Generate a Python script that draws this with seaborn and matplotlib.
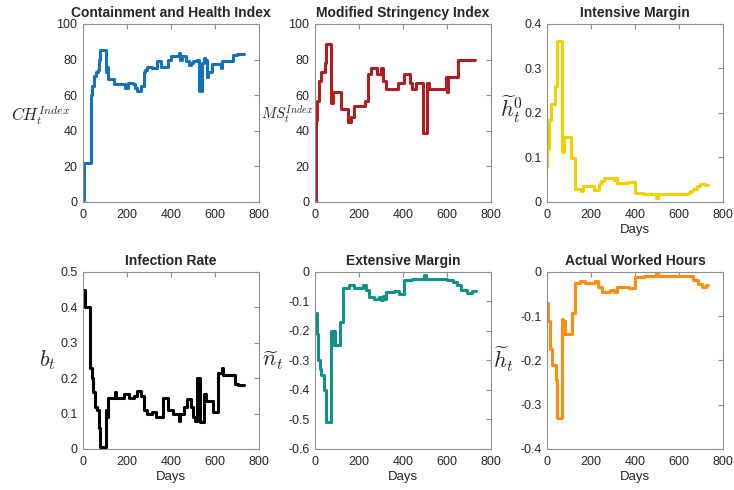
import matplotlib
matplotlib.use("Agg")
import matplotlib.pyplot as plt
from matplotlib.ticker import FixedLocator, FuncFormatter
import seaborn as sns

# Containment and Health Index (step breakpoints: day, value)
ch_days = [0, 5, 35, 38, 42, 48, 60, 68, 74, 79, 104, 109, 114, 142, 191, 206, 229, 238,
           247, 262, 275, 283, 290, 313, 336, 353, 388, 402, 436, 441, 449, 466, 480, 492,
           501, 516, 527, 543, 548, 556, 562, 568, 588, 626, 633, 682, 698, 733]
ch_vals = [1, 22, 57, 60, 65, 71, 73, 74, 80, 85.5, 73, 76, 69, 66, 64, 67, 66, 64,
           62.5, 65, 73, 74, 76, 75, 79, 76, 80, 82, 83.5, 80, 82, 79, 77, 78,
           79, 80, 62.5, 78, 81, 80, 70, 73, 77.5, 75, 79, 82.5, 83, 83]

# Modified Stringency Index
ms_days = [0, 4, 8, 17, 27, 45, 51, 71, 80, 116, 152, 162, 176, 228, 242, 256, 282, 301,
           307, 322, 377, 403, 431, 440, 457, 491, 507, 520, 597, 601, 605, 648, 727]
ms_vals = [0, 46, 57, 68, 73, 78, 88.5, 55.5, 62, 52, 45, 48, 54, 57, 72, 75, 72, 75,
           68, 63.5, 67, 72, 67, 63.5, 67, 38.5, 67, 63.5, 70, 62, 70, 80, 80]

# Intensive margin
im_days = [0, 2, 10, 20, 38, 45, 68, 78, 111, 128, 153, 166, 215, 236, 244, 258, 303, 311,
           318, 367, 401, 437, 494, 504, 640, 652, 665, 680, 695, 720, 733]
im_vals = [0.08, 0.12, 0.185, 0.22, 0.26, 0.362, 0.113, 0.147, 0.098, 0.03, 0.025, 0.035,
           0.028, 0.04, 0.048, 0.054, 0.05, 0.055, 0.043, 0.046, 0.02, 0.017, 0.01, 0.017,
           0.02, 0.025, 0.03, 0.036, 0.041, 0.038, 0.038]

# Infection rate
ir_days = [0, 8, 34, 40, 47, 53, 63, 74, 79, 104, 110, 115, 145, 150, 186, 210, 230, 245,
           262, 276, 290, 313, 330, 363, 385, 410, 438, 443, 460, 472, 490, 500, 508, 516,
           532, 549, 560, 591, 614, 632, 638, 691, 705, 733]
ir_vals = [0.45, 0.40, 0.23, 0.20, 0.16, 0.12, 0.11, 0.06, 0.005, 0.11, 0.09, 0.145, 0.16,
           0.145, 0.155, 0.145, 0.15, 0.165, 0.15, 0.11, 0.10, 0.105, 0.09, 0.145, 0.11,
           0.10, 0.08, 0.10, 0.12, 0.14, 0.12, 0.09, 0.08, 0.20, 0.075, 0.155, 0.135, 0.105,
           0.215, 0.23, 0.21, 0.185, 0.18, 0.18]

# Extensive margin
em_days = [0, 7, 14, 22, 29, 43, 49, 73, 81, 86, 89, 114, 129, 155, 175, 220, 233, 245,
           270, 290, 300, 307, 314, 322, 360, 380, 406, 440, 493, 505, 600, 625, 645, 665,
           690, 715, 733]
em_vals = [-0.14, -0.21, -0.30, -0.33, -0.35, -0.40, -0.507, -0.20, -0.248, -0.20, -0.248,
           -0.171, -0.054, -0.043, -0.055, -0.045, -0.06, -0.085, -0.09, -0.085, -0.095,
           -0.08, -0.09, -0.068, -0.065, -0.075, -0.028, -0.023, -0.011, -0.024, -0.027,
           -0.035, -0.045, -0.06, -0.071, -0.066, -0.066]

# Actual worked hours
ah_days = [0, 5, 14, 23, 40, 46, 69, 75, 79, 83, 112, 127, 152, 172, 216, 230, 250, 285,
           305, 320, 375, 402, 440, 497, 505, 645, 665, 685, 705, 725, 733]
ah_vals = [-0.07, -0.11, -0.175, -0.21, -0.245, -0.33, -0.107, -0.139, -0.11, -0.139,
           -0.092, -0.024, -0.02, -0.025, -0.02, -0.035, -0.045, -0.04, -0.045, -0.033,
           -0.037, -0.012, -0.008, -0.003, -0.008, -0.01, -0.018, -0.028, -0.033, -0.03,
           -0.03]

x_ticks = [0, 200, 400, 600, 800]
ch_ticks = [0, 20, 40, 60, 80, 100]
ms_ticks = [0, 20, 40, 60, 80, 100]
im_ticks = [0, 0.1, 0.2, 0.3, 0.4]
ir_ticks = [0, 0.1, 0.2, 0.3, 0.4, 0.5]
em_ticks = [-0.6, -0.5, -0.4, -0.3, -0.2, -0.1, 0]
ah_ticks = [-0.4, -0.3, -0.2, -0.1, 0]

sns.set_style("white")
plt.rcParams["font.family"] = ["Liberation Sans", "DejaVu Sans"]
plt.rcParams["mathtext.fontset"] = "cm"
plt.rcParams["axes.unicode_minus"] = False

fig = plt.figure(figsize=(7.34, 4.90), dpi=100)

W, H_TOP, H_BOT = 0.2398, 0.3633, 0.3612
lefts = [0.1131, 0.4292, 0.7452]
bottoms = [0.5878, 0.0837]

panels = [
    dict(days=ch_days, vals=ch_vals, color="#1372BE", title="Containment and Health Index",
         ylabel=r"$CH_t^{Index}$", yt=ch_ticks, lab=(-0.24, 0.49), lab_size=12, xlabel=False),
    dict(days=ms_days, vals=ms_vals, color="#B01E22", title="Modified Stringency Index",
         ylabel=r"$MS_t^{Index}$", yt=ms_ticks, lab=(-0.155, 0.493), lab_size=10.5, xlabel=False),
    dict(days=im_days, vals=im_vals, color="#F2D000", title="Intensive Margin",
         ylabel=r"$\widetilde{h}_t^0$", yt=im_ticks, lab=(-0.2, 0.52), lab_size=16, xlabel=True),
    dict(days=ir_days, vals=ir_vals, color="#000000", title="Infection Rate",
         ylabel=r"$b_t$", yt=ir_ticks, lab=(-0.205, 0.5), lab_size=16, xlabel=True),
    dict(days=em_days, vals=em_vals, color="#11918A", title="Extensive Margin",
         ylabel=r"$\widetilde{n}_t$", yt=em_ticks, lab=(-0.24, 0.5), lab_size=16, xlabel=True),
    dict(days=ah_days, vals=ah_vals, color="#FF8C0A", title="Actual Worked Hours",
         ylabel=r"$\widetilde{h}_t$", yt=ah_ticks, lab=(-0.245, 0.51), lab_size=16, xlabel=True),
]

fmt = FuncFormatter(lambda v, pos: "%g" % round(v, 6) if abs(v) > 1e-9 else "0")
spine_col = "#8f8f8f"

for i, p in enumerate(panels):
    row, col = divmod(i, 3)
    h = H_TOP if row == 0 else H_BOT
    ax = fig.add_axes([lefts[col], bottoms[row], W, h])
    sns.lineplot(x=p["days"], y=p["vals"], ax=ax, color=p["color"], lw=2.2,
                 drawstyle="steps-post", legend=False, sort=False)
    ax.set_xlim(x_ticks[0], x_ticks[-1])
    ax.set_ylim(p["yt"][0], p["yt"][-1])
    ax.xaxis.set_major_locator(FixedLocator(x_ticks))
    ax.yaxis.set_major_locator(FixedLocator(p["yt"]))
    ax.xaxis.set_major_formatter(fmt)
    ax.yaxis.set_major_formatter(fmt)
    for s in ax.spines.values():
        s.set_visible(True)
        s.set_color(spine_col)
        s.set_linewidth(0.8)
    ax.tick_params(direction="in", top=True, right=True, length=3.5, width=0.8,
                   color=spine_col, labelsize=9, labelcolor="#262626")
    ax.tick_params(axis="x", pad=5)
    ax.tick_params(axis="y", pad=4)
    ax.set_title(p["title"], fontsize=10, fontweight="bold", pad=5)
    if p["xlabel"]:
        ax.set_xlabel("Days", fontsize=9.5, color="#262626", labelpad=2)
    else:
        ax.set_xlabel("")
    ax.set_ylabel(p["ylabel"], rotation=0, fontsize=p["lab_size"], ha="center",
                  va="center", color="#262626")
    ax.yaxis.set_label_coords(*p["lab"])

fig.savefig("out.png", dpi=100)
